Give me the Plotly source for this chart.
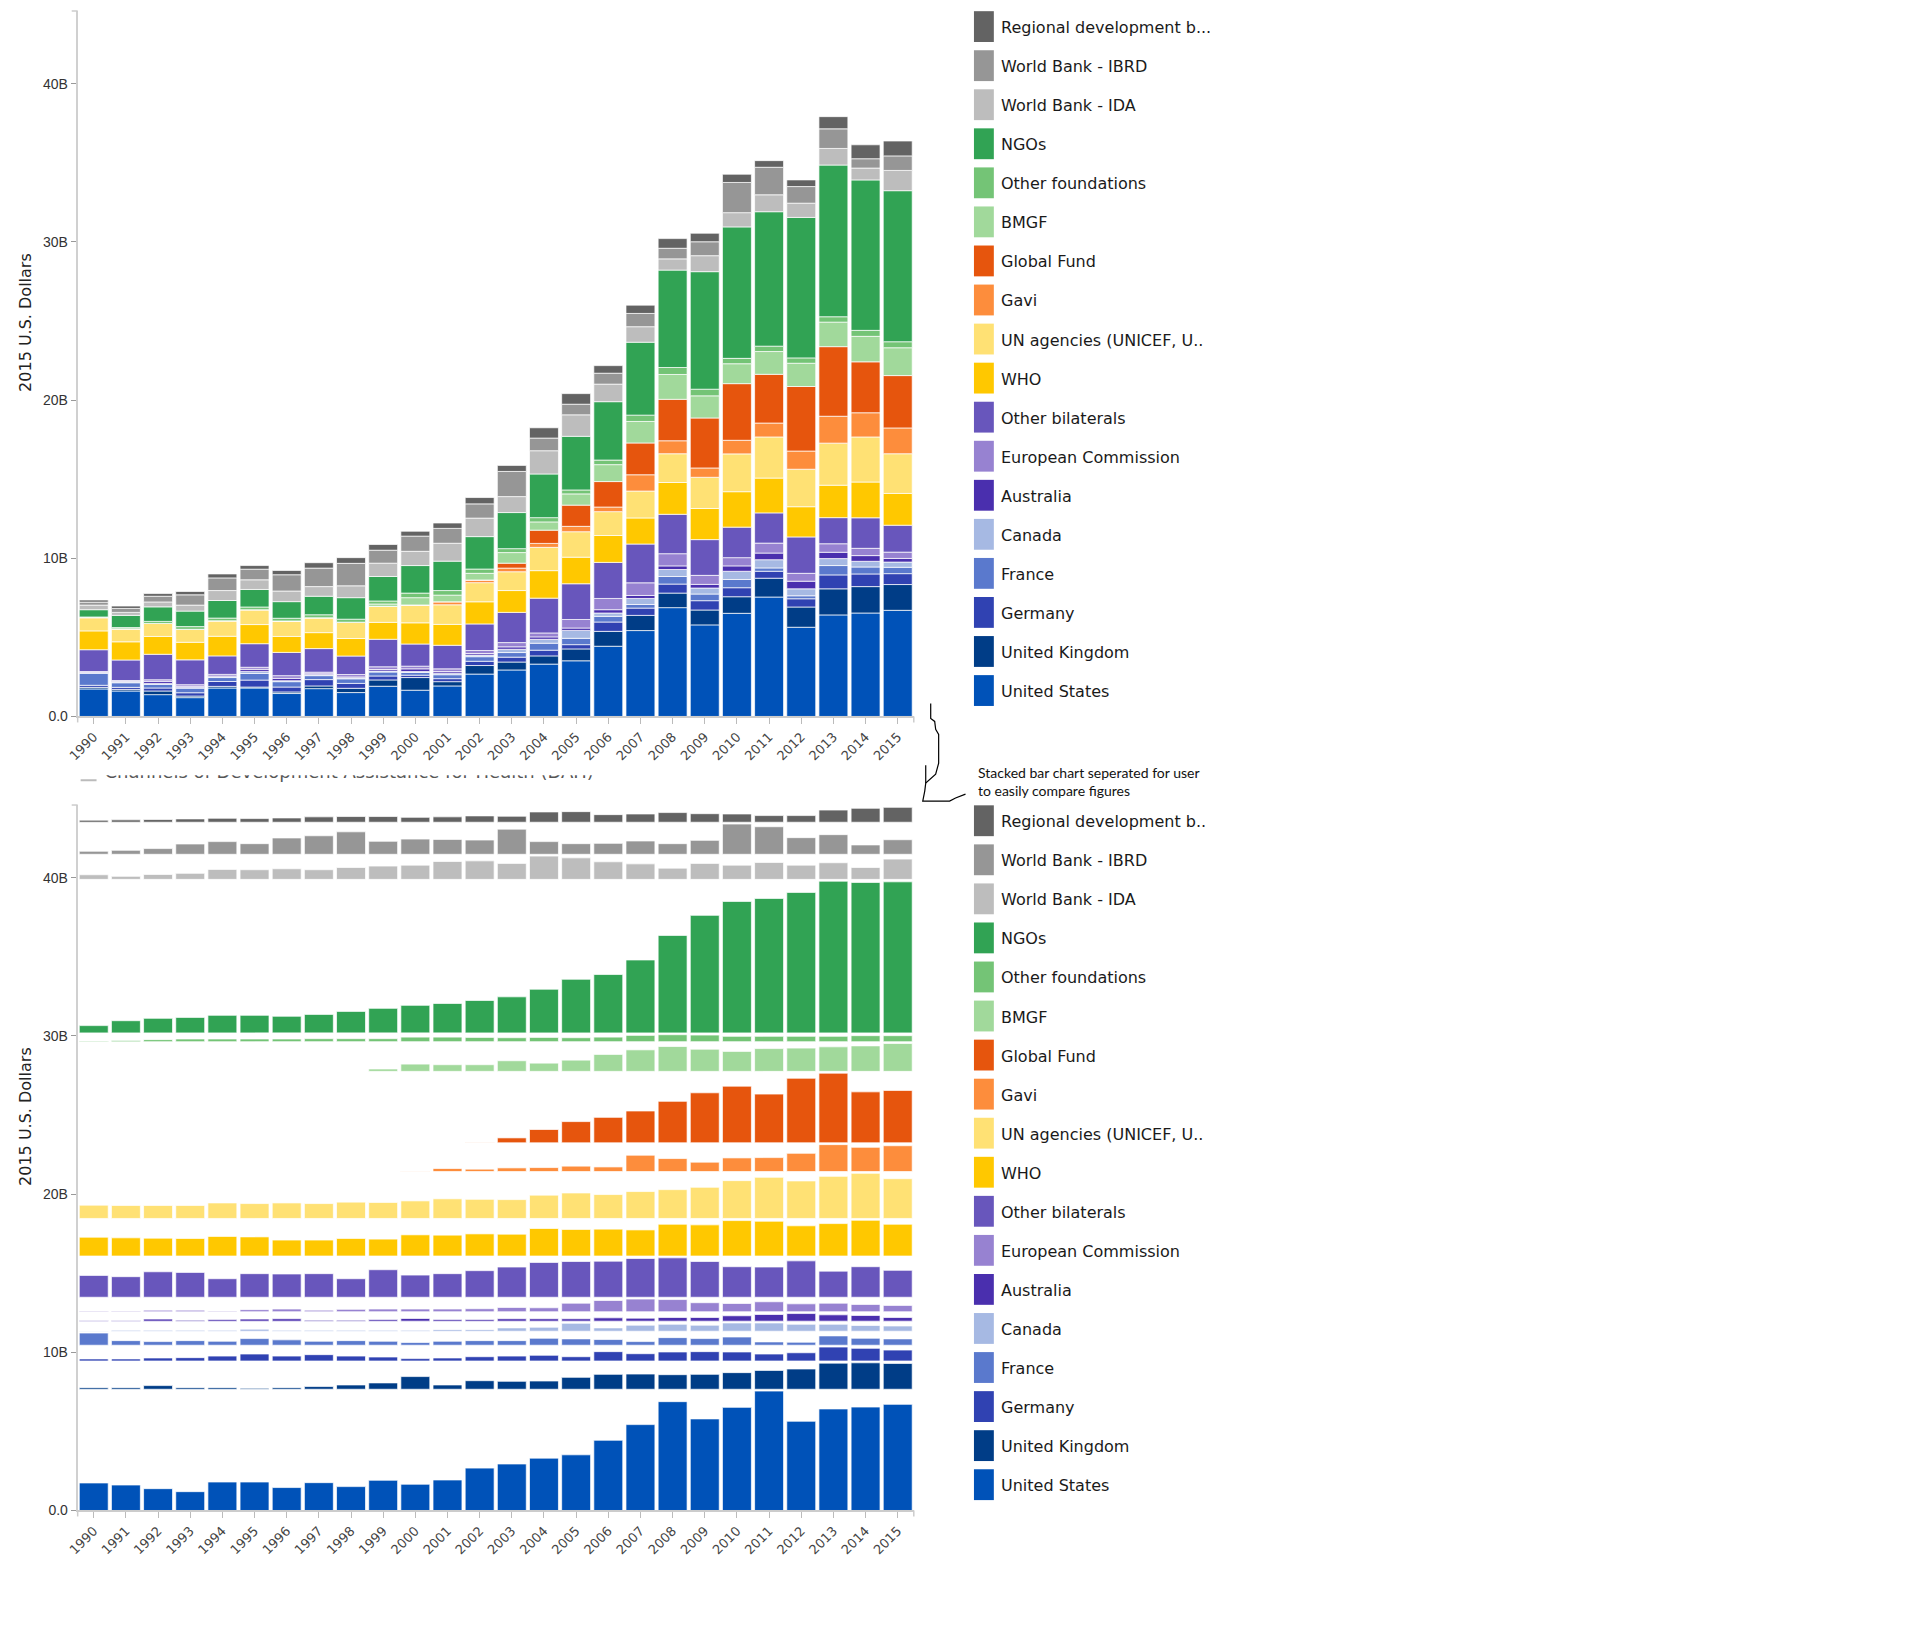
import plotly.graph_objects as go

# ---------------- data (billions of 2015 US$) ----------------
years = list(range(1990, 2016))

united_states = [1.74, 1.61, 1.38, 1.19, 1.80, 1.80, 1.45, 1.76, 1.51, 1.91, 1.66, 1.93, 2.68,
                 2.94, 3.31, 3.52, 4.44, 5.43, 6.88, 5.79, 6.52, 7.55, 5.64, 6.42, 6.54, 6.71]
united_kingdom = [0.10, 0.10, 0.23, 0.10, 0.10, 0.06, 0.10, 0.17, 0.27, 0.40, 0.80, 0.27, 0.54,
                  0.50, 0.52, 0.75, 0.94, 0.96, 0.92, 0.94, 1.05, 1.19, 1.28, 1.65, 1.67, 1.63]
germany = [0.13, 0.13, 0.19, 0.21, 0.31, 0.44, 0.31, 0.40, 0.31, 0.25, 0.15, 0.19, 0.27,
           0.31, 0.36, 0.27, 0.59, 0.46, 0.57, 0.59, 0.57, 0.44, 0.52, 0.88, 0.80, 0.69]
france = [0.77, 0.29, 0.23, 0.29, 0.25, 0.42, 0.34, 0.25, 0.29, 0.25, 0.17, 0.25, 0.29,
          0.29, 0.44, 0.40, 0.36, 0.23, 0.48, 0.42, 0.52, 0.21, 0.19, 0.59, 0.44, 0.40]
canada = [0.02, 0.06, 0.06, 0.06, 0.06, 0.13, 0.06, 0.06, 0.06, 0.06, 0.06, 0.10, 0.10,
          0.21, 0.25, 0.50, 0.21, 0.38, 0.44, 0.38, 0.52, 0.52, 0.44, 0.44, 0.36, 0.33]
australia = [0.04, 0.04, 0.13, 0.06, 0.10, 0.13, 0.15, 0.06, 0.06, 0.10, 0.17, 0.10, 0.10,
             0.15, 0.15, 0.15, 0.21, 0.19, 0.23, 0.23, 0.34, 0.42, 0.48, 0.40, 0.36, 0.23]
european_commission = [0.04, 0.04, 0.10, 0.10, 0.04, 0.13, 0.17, 0.10, 0.15, 0.17, 0.17, 0.17, 0.19,
                       0.27, 0.25, 0.54, 0.71, 0.80, 0.77, 0.57, 0.52, 0.63, 0.50, 0.54, 0.46, 0.40]
other_bilaterals = [1.38, 1.30, 1.61, 1.57, 1.17, 1.49, 1.47, 1.49, 1.17, 1.74, 1.40, 1.49, 1.68,
                    1.91, 2.20, 2.26, 2.28, 2.45, 2.49, 2.26, 1.93, 1.91, 2.30, 1.65, 1.93, 1.70]
who = [1.19, 1.15, 1.13, 1.11, 1.24, 1.21, 1.01, 1.01, 1.11, 1.07, 1.34, 1.32, 1.40,
       1.38, 1.74, 1.68, 1.70, 1.65, 2.01, 1.97, 2.24, 2.20, 1.91, 2.05, 2.26, 2.01]
un_agencies = [0.84, 0.82, 0.82, 0.82, 0.98, 0.94, 0.98, 0.94, 1.03, 1.01, 1.11, 1.24, 1.21,
               1.19, 1.47, 1.61, 1.51, 1.70, 1.82, 1.97, 2.39, 2.60, 2.37, 2.66, 2.85, 2.51]
gavi = [0, 0, 0, 0, 0, 0, 0, 0, 0, 0, 0.02, 0.19, 0.15,
        0.23, 0.25, 0.34, 0.29, 1.03, 0.82, 0.59, 0.86, 0.88, 1.15, 1.70, 1.53, 1.63]
global_fund = [0, 0, 0, 0, 0, 0, 0, 0, 0, 0, 0, 0, 0.02,
               0.31, 0.84, 1.34, 1.61, 2.01, 2.62, 3.16, 3.58, 3.08, 4.08, 4.40, 3.22, 3.31]
bmgf = [0, 0, 0, 0, 0, 0, 0, 0, 0, 0.15, 0.46, 0.42, 0.42,
        0.67, 0.52, 0.71, 1.07, 1.36, 1.57, 1.40, 1.26, 1.44, 1.47, 1.55, 1.61, 1.76]
other_foundations = [0.04, 0.08, 0.13, 0.17, 0.17, 0.17, 0.17, 0.19, 0.19, 0.19, 0.29, 0.29, 0.27,
                     0.25, 0.27, 0.25, 0.29, 0.40, 0.44, 0.42, 0.34, 0.34, 0.34, 0.34, 0.38, 0.38]
ngos = [0.46, 0.77, 0.92, 0.98, 1.11, 1.11, 1.05, 1.17, 1.36, 1.55, 1.74, 1.86, 2.05,
        2.28, 2.76, 3.39, 3.69, 4.61, 6.16, 7.43, 8.31, 8.50, 8.88, 9.59, 9.51, 9.55]
wb_ida = [0.29, 0.19, 0.31, 0.38, 0.63, 0.61, 0.67, 0.61, 0.75, 0.84, 0.90, 1.13, 1.17,
          1.01, 1.47, 1.36, 1.11, 0.98, 0.71, 1.01, 0.90, 1.07, 0.90, 1.05, 0.75, 1.28]
wb_ibrd = [0.19, 0.25, 0.36, 0.65, 0.80, 0.67, 1.03, 1.17, 1.42, 0.82, 0.96, 0.94, 0.90,
           1.59, 0.80, 0.67, 0.69, 0.84, 0.67, 0.88, 1.91, 1.74, 1.05, 1.24, 0.59, 0.92]
regional_dev_banks = [0.13, 0.15, 0.17, 0.21, 0.25, 0.23, 0.27, 0.34, 0.36, 0.36, 0.31, 0.34, 0.40,
                      0.38, 0.65, 0.67, 0.48, 0.52, 0.61, 0.54, 0.52, 0.42, 0.42, 0.77, 0.88, 0.94]

# stacking order (bottom -> top)
series_names = ["United States", "United Kingdom", "Germany", "France", "Canada", "Australia",
                "European Commission", "Other bilaterals", "WHO", "UN agencies (UNICEF, UNFPA, UNAIDS, PAHO)",
                "Gavi", "Global Fund", "BMGF", "Other foundations", "NGOs", "World Bank - IDA",
                "World Bank - IBRD", "Regional development banks"]
series_values = [united_states, united_kingdom, germany, france, canada, australia,
                 european_commission, other_bilaterals, who, un_agencies, gavi, global_fund,
                 bmgf, other_foundations, ngos, wb_ida, wb_ibrd, regional_dev_banks]
series_colors = ["#0052b8", "#003d87", "#3042b2", "#5a79cd", "#a6b9e3", "#4a2fae",
                 "#9782d1", "#6856bc", "#ffc800", "#ffe174", "#fd8d3c", "#e6550d",
                 "#a1d99b", "#74c476", "#31a354", "#bdbdbd", "#969696", "#636363"]
legend_labels_top = ["United States", "United Kingdom", "Germany", "France", "Canada", "Australia",
                     "European Commission", "Other bilaterals", "WHO", "UN agencies (UNICEF, U..",
                     "Gavi", "Global Fund", "BMGF", "Other foundations", "NGOs", "World Bank - IDA",
                     "World Bank - IBRD", "Regional development b..."]
legend_labels_bottom = legend_labels_top[:-1] + ["Regional development b.."]

y_ticks = [0, 10, 20, 30, 40]
y_ticktext = ["0.0", "10B", "20B", "30B", "40B"]

# ---------------- geometry helpers ----------------
# The page body keeps its default 8px margin, so the figure is 16px smaller than
# the 1920x1626 window and all page-pixel positions are shifted by 8px.
PAGE_MARGIN = 8
W, H = 1920 - 2 * PAGE_MARGIN, 1626 - 2 * PAGE_MARGIN


def px(x):
    return (x - PAGE_MARGIN) / W


def py(y):
    return 1 - (y - PAGE_MARGIN) / H


Y_MAX = 44.6
BAND_PAD = 0.116

fig = go.Figure()

# ---- top: classic stacked bars ----
running = [0.0] * len(years)
for name, vals, col in zip(series_names, series_values, series_colors):
    fig.add_trace(go.Bar(
        x=years, y=vals, base=running[:], name=name, xaxis="x", yaxis="y",
        marker=dict(color=col, line=dict(color="rgba(255,255,255,0.7)", width=1)),
        showlegend=False))
    running = [r + v for r, v in zip(running, vals)]

# ---- bottom: separated bands (each series on its own baseline) ----
offset = 0.0
for name, vals, col in zip(series_names, series_values, series_colors):
    fig.add_trace(go.Bar(
        x=years, y=vals, base=[offset] * len(years), name=name, xaxis="x2", yaxis="y2",
        marker=dict(color=col, line=dict(color="rgba(255,255,255,0.7)", width=1)),
        showlegend=False))
    offset += max(vals) + BAND_PAD

# ---- partially hidden chart title (clipped by its own small subplot) ----
fig.add_trace(go.Scatter(
    x=[94], y=[777.5], mode="text", xaxis="x3", yaxis="y3",
    text=["Channels of Development Assistance for Health (DAH)"],
    textposition="middle right", cliponaxis=True,
    textfont=dict(family="DejaVu Sans", size=18, color="#555555"),
    showlegend=False, hoverinfo="skip"))
fig.add_trace(go.Scatter(
    x=[70, 86], y=[784, 784], mode="lines", xaxis="x3", yaxis="y3",
    line=dict(color="#bbbbbb", width=2), showlegend=False, hoverinfo="skip"))

xaxis_common = dict(
    range=[1989.5, 2015.5], tickmode="array", tickvals=years,
    ticktext=[str(y) for y in years], tickangle=-45,
    ticks="outside", ticklen=6, tickcolor="#bbbbbb", tickwidth=1,
    showline=True, linecolor="#cccccc", linewidth=1.5,
    showgrid=False, zeroline=False,
    tickfont=dict(family="DejaVu Sans", size=13, color="#444444"),
    domain=[px(67), px(908)], fixedrange=True)
yaxis_common = dict(
    range=[0, Y_MAX], tickmode="array", tickvals=y_ticks, ticktext=y_ticktext,
    ticks="outside", ticklen=5, tickcolor="#999999", tickwidth=1,
    showline=True, linecolor="#d0d0d0", linewidth=2,
    showgrid=False, zeroline=False,
    tickfont=dict(family="Liberation Sans Narrow, Liberation Sans", size=14, color="#333333"),
    fixedrange=True)

fig.update_layout(
    width=W, height=H,
    margin=dict(l=0, r=0, t=0, b=0),
    paper_bgcolor="white", plot_bgcolor="white",
    barmode="overlay", bargap=0.1,
    showlegend=False,
    xaxis=dict(**xaxis_common, anchor="y"),
    yaxis=dict(**yaxis_common, domain=[py(720), py(11)], anchor="x"),
    xaxis2=dict(**xaxis_common, anchor="y2"),
    yaxis2=dict(**yaxis_common, domain=[py(1518), py(809)], anchor="x2"),
    xaxis3=dict(domain=[0, 1], range=[PAGE_MARGIN, PAGE_MARGIN + W], visible=False,
                anchor="y3", fixedrange=True),
    yaxis3=dict(domain=[py(792), py(779)], range=[792, 779], visible=False, anchor="x3",
                fixedrange=True),
)

shapes = []
annotations = []

# legends (manually drawn swatches + labels), top-to-bottom = reverse of stack order
for first_center, labels in ((26.7, legend_labels_top), (824.8, legend_labels_bottom)):
    for i, (lab, col) in enumerate(zip(labels[::-1], series_colors[::-1])):
        c = first_center + i * 39.25
        shapes.append(dict(type="rect", xref="paper", yref="paper",
                           x0=px(968.5), x1=px(988.5), y0=py(c + 15.5), y1=py(c - 15.5),
                           fillcolor=col, line=dict(width=0), layer="above"))
        annotations.append(dict(xref="paper", yref="paper", x=px(994), y=py(c + 1),
                                xanchor="left", yanchor="middle", showarrow=False,
                                text=lab, font=dict(family="DejaVu Sans", size=16, color="#1a1a1a")))

# y-axis titles
for yc in (324, 1122):
    annotations.append(dict(xref="paper", yref="paper", x=px(14.5), y=py(yc),
                            xanchor="center", yanchor="middle", showarrow=False, textangle=-90,
                            text="2015 U.S. Dollars",
                            font=dict(family="DejaVu Sans", size=16, color="#222222")))

# outer ticks at ends of axis domains
for top_y, bot_y in ((11, 720), (809, 1518)):
    shapes.append(dict(type="line", xref="paper", yref="paper",
                       x0=px(61), x1=px(67), y0=py(top_y), y1=py(top_y),
                       line=dict(color="#cccccc", width=1.5)))
    for xx in (67, 908):
        shapes.append(dict(type="line", xref="paper", yref="paper",
                           x0=px(xx), x1=px(xx), y0=py(bot_y), y1=py(bot_y + 6),
                           line=dict(color="#cccccc", width=1.5)))

# hand-drawn bracket
brace_main = [(925, 707), (925, 722), (929, 725), (930, 733), (933, 738), (933, 767),
              (930, 778), (920, 787), (919, 795), (917, 805), (944, 805), (950, 802), (960, 798)]
brace_side = [(920, 769), (920, 787)]
for pts in (brace_main, brace_side):
    path = "M " + " L ".join(f"{px(a):.5f},{py(b):.5f}" for a, b in pts)
    shapes.append(dict(type="path", xref="paper", yref="paper", path=path,
                       line=dict(color="#000000", width=1.2)))

annotations.append(dict(xref="paper", yref="paper", x=px(971), y=py(776),
                        xanchor="left", yanchor="middle", showarrow=False,
                        text="Stacked bar chart seperated for user",
                        font=dict(family="Lato, Open Sans", size=14, color="#111111")))
annotations.append(dict(xref="paper", yref="paper", x=px(971), y=py(794),
                        xanchor="left", yanchor="middle", showarrow=False,
                        text="to easily compare figures",
                        font=dict(family="Lato, Open Sans", size=14, color="#111111")))

fig.update_layout(shapes=shapes, annotations=annotations)

fig.write_html("out.html", config={"displayModeBar": False})
